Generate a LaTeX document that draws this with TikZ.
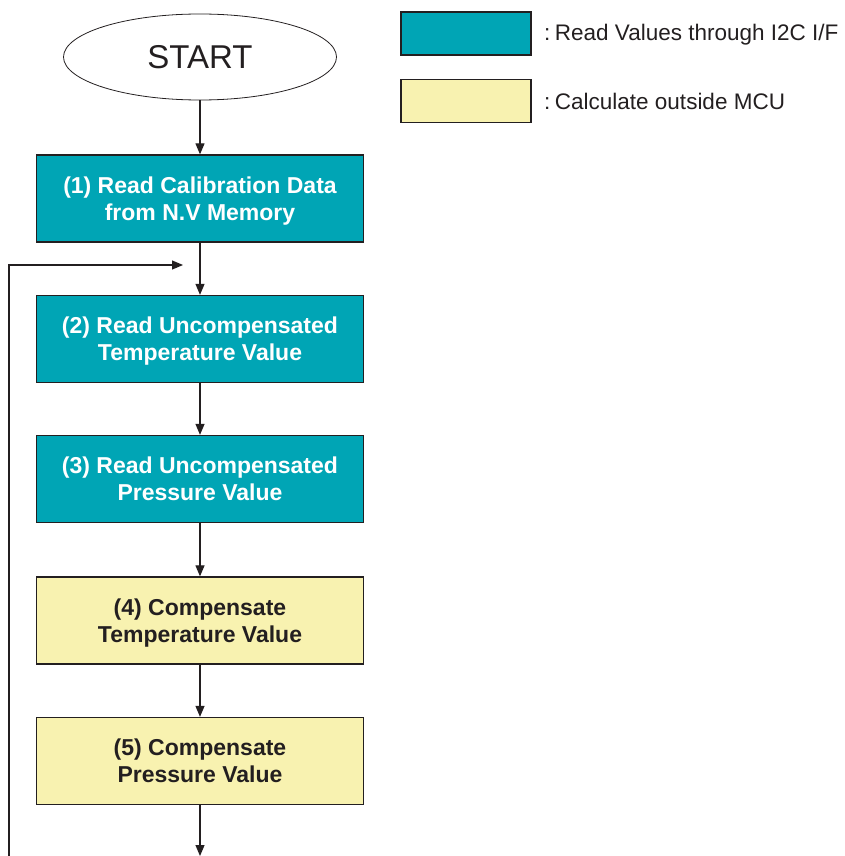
\documentclass[tikz,border=0pt]{standalone}
\usepackage{fontspec}
\setmainfont{Liberation Sans}
\usepackage{xcolor}
\usetikzlibrary{shapes,arrows.meta,positioning}
\definecolor{readcol}{RGB}{0,165,181}
\definecolor{calccol}{RGB}{248,242,176}
\definecolor{inkcol}{RGB}{35,31,32}

\begin{document}
\begin{tikzpicture}[x=1pt, y=-1pt,
    stepbox/.style={draw=inkcol, line width=1.3pt, minimum width=327pt, minimum height=87pt, inner sep=0pt, align=center, text depth=0pt, font=\fontsize{23}{27}\selectfont\bfseries},
    readbox/.style={stepbox, fill=readcol, text=white},
    calcbox/.style={stepbox, fill=calccol, text=inkcol},
    keybox/.style={draw=inkcol, line width=1.3pt, minimum width=130pt, minimum height=43pt, inner sep=0pt},
    keytext/.style={anchor=west, inner sep=0pt, text=inkcol, font=\fontsize{22.5}{27}\selectfont},
    flow/.style={draw=inkcol, line width=1.2pt, -{Triangle[length=11pt,width=9pt]}}]
    \useasboundingbox (0,0) rectangle (845,856);

    % START
    \node[draw=inkcol, ellipse, line width=0.8pt, minimum width=273pt, minimum height=86pt, inner sep=0pt, text=inkcol, font=\fontsize{33}{36}\selectfont] (start) at (200,57) {START};

    % steps
    \node[readbox] (rdcal) at (200,198.5) {(1) Read Calibration Data\\from N.V Memory};
    \node[readbox] (rdtemp) at (200,339) {(2) Read Uncompensated\\Temperature Value};
    \node[readbox] (rdpres) at (200,479) {(3) Read Uncompensated\\Pressure Value};
    \node[calcbox] (comptemp) at (200,620.5) {(4) Compensate\\Temperature Value};
    \node[calcbox] (comppres) at (200,761) {(5) Compensate\\Pressure Value};

    % legend
    \node[keybox, fill=readcol] (keyread) at (466,33.5) {};
    \node[keybox, fill=calccol] (keycalc) at (466,101) {};
    \node[keytext] (txtread) at (544,35) {:\hspace{4.5pt}Read Values through I2C I/F};
    \node[keytext] (txtcalc) at (544,101) {:\hspace{4.5pt}Calculate outside MCU};

    % flow
    \coordinate (exit) at (200,856);
    \coordinate (loopin) at (9,856);
    \coordinate (looptip) at (183,265);
    \draw[flow] (start) -- (rdcal);
    \draw[flow] (rdcal) -- (rdtemp);
    \draw[flow] (rdtemp) -- (rdpres);
    \draw[flow] (rdpres) -- (comptemp);
    \draw[flow] (comptemp) -- (comppres);
    \draw[flow] (comppres) -- (exit);
    \draw[flow] (loopin) |- (looptip);
\end{tikzpicture}
\end{document}
